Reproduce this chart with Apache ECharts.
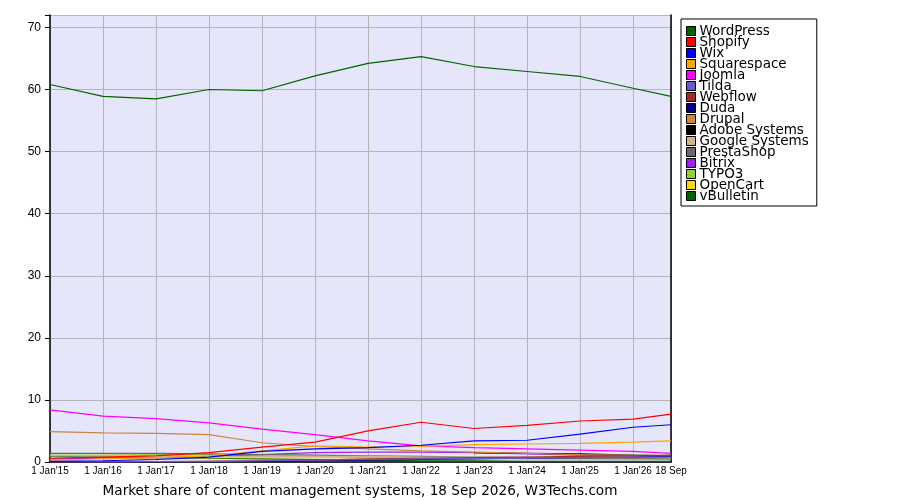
<!DOCTYPE html>
<html>
<head>
<meta charset="utf-8">
<script src="https://cdn.jsdelivr.net/npm/echarts@6/dist/echarts.min.js"></script>
<style>
html,body{margin:0;padding:0;background:#fff;}
#chart{width:900px;height:500px;}
</style>
</head>
<body>
<div id="chart"></div>
<script>
// x positions: years since 1 Jan 2015 (last point = 18 Sep 2026)
const xPoints = [0,1,2,3,4,5,6,7,8,9,10,11,11.715];
const xTickLabels = ["1 Jan'15","1 Jan'16","1 Jan'17","1 Jan'18","1 Jan'19","1 Jan'20","1 Jan'21","1 Jan'22","1 Jan'23","1 Jan'24","1 Jan'25","1 Jan'26"];
const lastLabel = "18 Sep";
const titleText = "Market share of content management systems, 18 Sep 2026, W3Techs.com";

const names = ["WordPress","Shopify","Wix","Squarespace","Joomla","Tilda","Webflow","Duda","Drupal","Adobe Systems","Google Systems","PrestaShop","Bitrix","TYPO3","OpenCart","vBulletin"];
const colors = ["#006400","#ff0000","#0000ff","#ffa500","#ff00ff","#6a5acd","#a52a2a","#000080","#cd853f","#000000","#d2b48c","#696969","#a020f0","#9acd32","#ffd700","#006400"];

const wordpress   = [60.8,58.9,58.5,60.0,59.8,62.2,64.2,65.3,63.7,62.9,62.1,60.2,58.9];
const shopify     = [0.6,0.8,1.0,1.5,2.4,3.2,5.0,6.4,5.4,5.9,6.6,6.9,7.7];
const wix         = [0.1,0.2,0.4,0.8,1.7,2.1,2.3,2.7,3.4,3.5,4.5,5.6,6.0];
const squarespace = [0.3,0.5,0.7,1.0,1.8,2.6,2.4,2.5,2.8,2.9,3.0,3.2,3.4];
const joomla      = [8.4,7.4,7.0,6.3,5.3,4.4,3.4,2.6,2.3,2.1,1.9,1.7,1.4];
const tilda       = [0.0,0.02,0.05,0.1,0.2,0.3,0.4,0.5,0.6,0.6,0.7,0.8,0.8];
const webflow     = [0.0,0.0,0.05,0.1,0.2,0.3,0.5,0.6,0.7,0.8,0.9,1.0,1.1];
const duda        = [0.0,0.0,0.0,0.05,0.1,0.2,0.3,0.4,0.5,0.6,0.7,0.8,0.9];
const drupal      = [4.9,4.7,4.6,4.4,3.1,2.5,2.1,1.8,1.6,1.4,1.2,1.1,1.0];
const adobe       = [null,null,null,null,null,null,null,null,1.5,1.4,1.3,1.1,1.0];
const google      = [1.0,1.0,1.0,0.9,0.9,0.9,0.9,0.8,0.8,0.8,0.7,0.7,0.7];
const prestashop  = [1.4,1.4,1.4,1.3,1.2,1.1,1.0,0.9,0.8,0.7,0.6,0.6,0.5];
const bitrix      = [0.5,0.6,0.7,0.9,1.2,1.5,1.6,1.6,1.5,1.3,1.1,1.0,0.9];
const typo3       = [1.1,1.1,1.2,1.2,1.0,0.9,0.8,0.7,0.6,0.5,0.5,0.4,0.4];
const opencart    = [0.5,0.6,0.7,0.7,0.7,0.7,0.7,0.6,0.6,0.5,0.5,0.5,0.4];
const vbulletin   = [0.9,0.8,0.7,0.6,0.5,0.4,0.3,0.2,0.2,0.1,0.1,0.1,0.1];

const seriesValues = [wordpress,shopify,wix,squarespace,joomla,tilda,webflow,duda,drupal,adobe,google,prestashop,bitrix,typo3,opencart,vbulletin];
const xMax = xPoints[xPoints.length-1];

const chart = echarts.init(document.getElementById('chart'), null, {renderer:'canvas'});
const series = names.map((n,i)=>({
  name:n, type:'line', symbol:'none', animation:false,
  data: xPoints.map((x,j)=>[x, seriesValues[i][j]]),
  lineStyle:{color:colors[i], width:1.2},
  itemStyle:{color:colors[i]},
  z: 20 - i
})).reverse();

chart.setOption({
  animation:false,
  backgroundColor:'#ffffff',
  title:{
    text:titleText, left:355, top:479, textAlign:'center',
    textStyle:{fontFamily:'DejaVu Sans', fontSize:13.6, fontWeight:'normal', color:'#000'}
  },
  legend:{
    data:names, orient:'vertical', left:681, top:19,
    padding:[5,8,3,5], itemGap:-3.0, itemWidth:9, itemHeight:9,
    icon:'rect', borderColor:'#000', borderWidth:1,
    backgroundColor:'#fff',
    itemStyle:{borderColor:'#000', borderWidth:1},
    textStyle:{fontFamily:'DejaVu Sans', fontSize:13.5, color:'#000', lineHeight:11, padding:[0,0,0,-1]},
    selectedMode:false
  },
  grid:{left:50, top:15, right:229, bottom:38, show:true, backgroundColor:'#e6e6fa', borderWidth:0},
  xAxis:{
    type:'value', min:0, max:xMax, interval:1,
    axisLine:{show:true, lineStyle:{color:'#000', width:1.5}},
    axisTick:{show:false},
    splitLine:{show:true, lineStyle:{color:'#b8b4bc', width:1}},
    axisLabel:{
      fontFamily:'Liberation Sans', fontSize:10, color:'#000', margin:4,
      showMaxLabel:true, showMinLabel:true,
      formatter:(v)=>{
        if (Math.abs(v - xMax) < 1e-6) return lastLabel;
        if (Number.isInteger(v) && v < xTickLabels.length) return xTickLabels[v];
        return '';
      }
    }
  },
  yAxis:[{
    type:'value', min:0, max:72, interval:10,
    axisLine:{show:true, lineStyle:{color:'#000', width:1.5}},
    axisTick:{show:true, length:5, inside:false, lineStyle:{color:'#000'}},
    splitLine:{show:true, lineStyle:{color:'#b8b4bc', width:1}},
    axisLabel:{
      fontFamily:'Liberation Sans', fontSize:12, color:'#000', margin:9,
      formatter:(v)=> (v % 10 === 0 ? String(v) : '')
    }
  },{
    type:'value', min:0, max:72, position:'right',
    axisLine:{show:true, lineStyle:{color:'#000', width:1.5}},
    axisTick:{show:false}, axisLabel:{show:false}, splitLine:{show:false}
  }],
  series: series
});
</script>
</body>
</html>
